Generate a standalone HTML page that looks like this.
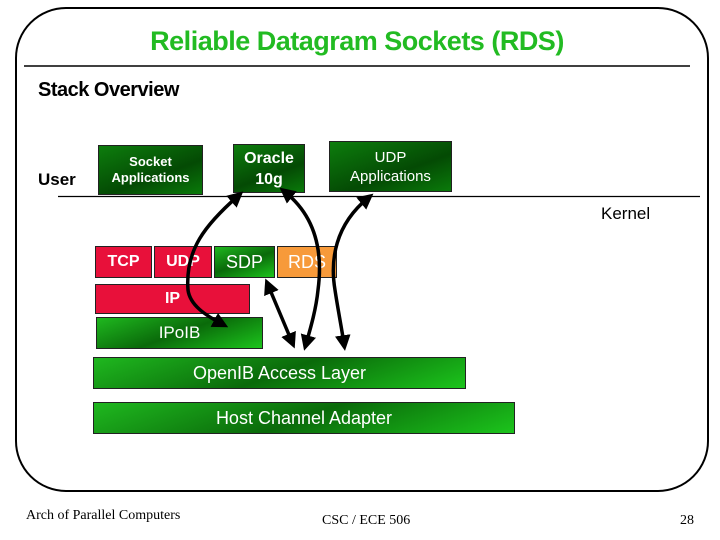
<!DOCTYPE html>
<html><head><meta charset="utf-8"><style>
body{margin:0;width:720px;height:540px;background:#fff;overflow:hidden;position:relative;font-family:"Liberation Sans",sans-serif}
.b{position:absolute;box-sizing:border-box;border:1px solid #222;color:#fff;display:flex;align-items:center;justify-content:center;text-align:center}
.g{background:linear-gradient(160deg,#1fb81f 0%,#0a6a0a 50%,#1cc41c 100%)}
.gd{background:linear-gradient(160deg,#0d7d0d,#044a04 60%,#0a7a0a)}
.r{background:#e8103a;font-weight:bold;font-size:16px}
.t{position:absolute}
</style></head><body>
<svg width="720" height="540" style="position:absolute;left:0;top:0">
<rect x="16" y="8" width="692" height="483" rx="50" ry="50" fill="none" stroke="#000" stroke-width="2"/>
<line x1="24" y1="66" x2="690" y2="66" stroke="#000" stroke-width="1.5"/>
<line x1="58" y1="196.5" x2="700" y2="196.5" stroke="#000" stroke-width="1.2"/>
</svg>
<div class="t" style="left:0;width:714px;top:26px;text-align:center;color:#22bb22;font-weight:bold;font-size:27px;letter-spacing:-0.5px">Reliable Datagram Sockets (RDS)</div>
<div class="t" style="left:38px;top:79px;font-weight:bold;font-size:20px;letter-spacing:-0.5px">Stack Overview</div>
<div class="t" style="left:38px;top:170px;font-weight:bold;font-size:17px">User</div>
<div class="t" style="left:601px;top:204px;font-size:17px">Kernel</div>
<div class="b gd" style="left:98px;top:145px;width:105px;height:50px;font-weight:bold;font-size:13px;line-height:16px">Socket<br>Applications</div>
<div class="b gd" style="left:233px;top:144px;width:72px;height:49px;font-weight:bold;font-size:16px;line-height:21px">Oracle<br>10g</div>
<div class="b gd" style="left:329px;top:141px;width:123px;height:51px;font-size:15px;line-height:19px">UDP<br>Applications</div>
<div class="b r" style="left:95px;top:246px;width:57px;height:32px">TCP</div>
<div class="b r" style="left:154px;top:246px;width:58px;height:32px">UDP</div>
<div class="b g" style="left:214px;top:246px;width:61px;height:32px;font-size:18px">SDP</div>
<div class="b" style="left:277px;top:246px;width:60px;height:32px;background:#f79a3a;font-size:18px">RDS</div>
<div class="b r" style="left:95px;top:284px;width:155px;height:30px">IP</div>
<div class="b g" style="left:96px;top:317px;width:167px;height:32px;font-size:17px">IPoIB</div>
<div class="b g" style="left:93px;top:357px;width:373px;height:32px;font-size:18px">OpenIB Access Layer</div>
<div class="b g" style="left:93px;top:402px;width:422px;height:32px;font-size:18px">Host Channel Adapter</div>
<svg width="720" height="540" style="position:absolute;left:0;top:0">
<defs><marker id="a" markerWidth="4.5" markerHeight="4.5" refX="2.5" refY="2.25" orient="auto-start-reverse" markerUnits="strokeWidth"><path d="M0,0 L4.5,2.25 L0,4.5 z" fill="#000"/></marker></defs>
<g fill="none" stroke="#000" stroke-width="3.5" marker-start="url(#a)" marker-end="url(#a)">
<path d="M238,196 C205,225 185,250 188,290 C190,305 205,315 222,324"/>
<path d="M285,192 C320,220 322,260 318,290 C316,310 310,330 306,344"/>
<path d="M368,198 C335,225 330,260 335,290 C338,310 342,330 344,344"/>
<path d="M268,285 L292,342"/>
</g>
</svg>
<div class="t" style="left:26px;top:508px;font-family:'Liberation Serif',serif;font-size:14px">Arch of Parallel Computers</div>
<div class="t" style="left:322px;top:513px;font-family:'Liberation Serif',serif;font-size:14px">CSC / ECE 506</div>
<div class="t" style="left:680px;top:513px;font-family:'Liberation Serif',serif;font-size:14px">28</div>
</body></html>
